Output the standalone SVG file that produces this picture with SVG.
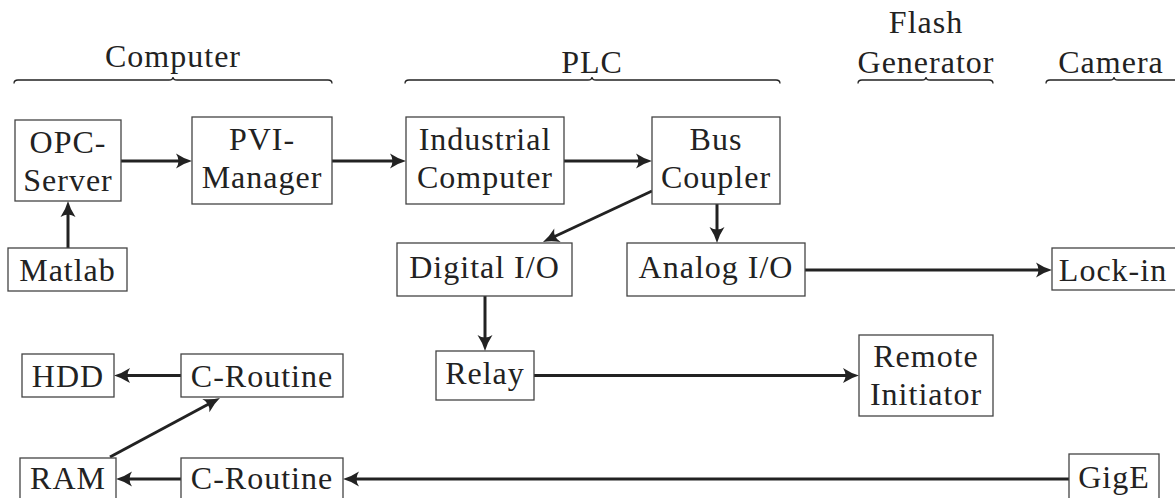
<svg xmlns="http://www.w3.org/2000/svg" width="1175" height="498" viewBox="0 0 1175 498">
<style>
  .box { fill: #fff; stroke: #444; stroke-width: 1.3; }
  text { font-family: "Liberation Serif", "Times New Roman", serif; font-size: 32px; letter-spacing: 1px; fill: #222; text-anchor: middle; }
  .c { fill: none; stroke: #222; stroke-width: 3; }
  .brace { fill: none; stroke: #222; stroke-width: 1.3; }
</style>
<defs>
  <marker id="ah" markerUnits="userSpaceOnUse" markerWidth="30" markerHeight="30" refX="0" refY="0" orient="auto" overflow="visible" viewBox="-15 -15 30 30">
    <path d="M7,0 Q-1,-2.2 -9,-7.5 Q-4,0 -9,7.5 Q-1,2.2 7,0 Z" fill="#222"/>
  </marker>
</defs>
<rect width="1175" height="498" fill="#fff"/>

<g id="groups">
  <g id="grp-computer">
    <path class="brace" d="M14,83.5 Q14,80 18,80 H169 Q173,80 173,77 Q173,80 177,80 H328 Q332,80 332,83.5"/>
    <text x="173" y="67">Computer</text>
  </g>
  <g id="grp-plc">
    <path class="brace" d="M405,83.5 Q405,80 409,80 H588 Q592,80 592,77 Q592,80 596,80 H776 Q780,80 780,83.5"/>
    <text x="592" y="73">PLC</text>
  </g>
  <g id="grp-flash">
    <path class="brace" d="M858,83.5 Q858,80 862,80 H922 Q926,80 926,77 Q926,80 930,80 H989 Q993,80 993,83.5"/>
    <text x="926" y="33">Flash</text>
    <text x="926" y="73">Generator</text>
  </g>
  <g id="grp-camera">
    <path class="brace" d="M1046,83.5 Q1046,80 1050,80 H1110 Q1114,80 1114,77 Q1114,80 1118,80 H1178 Q1182,80 1182,83.5"/>
    <text x="1111" y="73">Camera</text>
  </g>
</g>

<g id="connectors">
  <path class="c" marker-end="url(#ah)" d="M121,161 H185"/>
  <path class="c" marker-end="url(#ah)" d="M332,161 H399"/>
  <path class="c" marker-end="url(#ah)" d="M564,161 H645"/>
  <path class="c" marker-end="url(#ah)" d="M68,248 V208"/>
  <path class="c" marker-end="url(#ah)" d="M652,191 L549.3,239.0"/>
  <path class="c" marker-end="url(#ah)" d="M717,204 V236"/>
  <path class="c" marker-end="url(#ah)" d="M805,270 H1045"/>
  <path class="c" marker-end="url(#ah)" d="M485,296 V344"/>
  <path class="c" marker-end="url(#ah)" d="M534,375.5 H852"/>
  <path class="c" marker-end="url(#ah)" d="M1069,479 H350"/>
  <path class="c" marker-end="url(#ah)" d="M181,479 H123"/>
  <path class="c" marker-end="url(#ah)" d="M181,375.5 H121"/>
  <path class="c" marker-end="url(#ah)" d="M110,457 L213.8,401.3"/>
</g>

<g id="opc-server">
  <rect class="box" x="15" y="120" width="106" height="81"/>
  <text x="68" y="153">OPC-</text>
  <text x="68" y="191">Server</text>
</g>
<g id="pvi-manager">
  <rect class="box" x="192" y="117" width="140" height="87"/>
  <text x="262" y="150">PVI-</text>
  <text x="262" y="188">Manager</text>
</g>
<g id="matlab">
  <rect class="box" x="8" y="248" width="119" height="43"/>
  <text x="67.5" y="280.5">Matlab</text>
</g>
<g id="industrial-computer">
  <rect class="box" x="406" y="117" width="158" height="87"/>
  <text x="485" y="150">Industrial</text>
  <text x="485" y="188">Computer</text>
</g>
<g id="bus-coupler">
  <rect class="box" x="652" y="117" width="128" height="87"/>
  <text x="716" y="150">Bus</text>
  <text x="716" y="188">Coupler</text>
</g>
<g id="digital-io">
  <rect class="box" x="397" y="243" width="175" height="53"/>
  <text x="484.5" y="278">Digital I/O</text>
</g>
<g id="analog-io">
  <rect class="box" x="627" y="243" width="178" height="53"/>
  <text x="716" y="278">Analog I/O</text>
</g>
<g id="lock-in">
  <rect class="box" x="1052" y="248" width="130" height="42"/>
  <text x="1113" y="281">Lock-in</text>
</g>
<g id="relay">
  <rect class="box" x="436" y="351" width="98" height="49"/>
  <text x="485" y="384">Relay</text>
</g>
<g id="remote-initiator">
  <rect class="box" x="859" y="335" width="134" height="81"/>
  <text x="926" y="367">Remote</text>
  <text x="926" y="405">Initiator</text>
</g>
<g id="hdd">
  <rect class="box" x="22" y="354" width="92" height="43"/>
  <text x="68" y="387">HDD</text>
</g>
<g id="c-routine-1">
  <rect class="box" x="181" y="354" width="162" height="43"/>
  <text x="262" y="387">C-Routine</text>
</g>
<g id="ram">
  <rect class="box" x="20" y="458" width="96" height="50"/>
  <text x="68" y="488.5">RAM</text>
</g>
<g id="c-routine-2">
  <rect class="box" x="181" y="458" width="162" height="50"/>
  <text x="262" y="488.5">C-Routine</text>
</g>
<g id="gige">
  <rect class="box" x="1069" y="454" width="90" height="54"/>
  <text x="1114" y="487.5">GigE</text>
</g>
</svg>
